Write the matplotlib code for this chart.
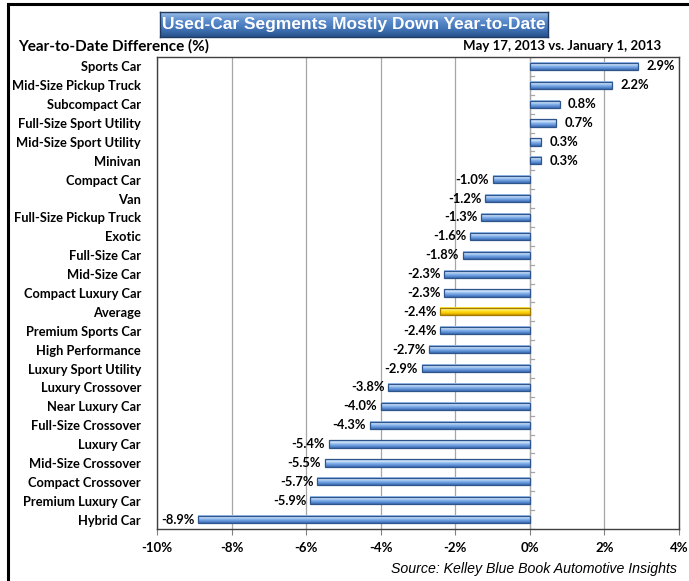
import matplotlib
matplotlib.use("Agg")
import matplotlib.pyplot as plt
import numpy as np
from matplotlib.lines import Line2D

categories = ["Sports Car", "Mid-Size Pickup Truck", "Subcompact Car", "Full-Size Sport Utility",
              "Mid-Size Sport Utility", "Minivan", "Compact Car", "Van", "Full-Size Pickup Truck",
              "Exotic", "Full-Size Car", "Mid-Size Car", "Compact Luxury Car", "Average",
              "Premium Sports Car", "High Performance", "Luxury Sport Utility", "Luxury Crossover",
              "Near Luxury Car", "Full-Size Crossover", "Luxury Car", "Mid-Size Crossover",
              "Compact Crossover", "Premium Luxury Car", "Hybrid Car"]
values = [2.9, 2.2, 0.8, 0.7, 0.3, 0.3, -1.0, -1.2, -1.3, -1.6, -1.8, -2.3, -2.3, -2.4,
          -2.4, -2.7, -2.9, -3.8, -4.0, -4.3, -5.4, -5.5, -5.7, -5.9, -8.9]
xticks = [-10, -8, -6, -4, -2, 0, 2, 4]
xtick_labels = ["-10%", "-8%", "-6%", "-4%", "-2%", "0%", "2%", "4%"]
title = "Used-Car Segments Mostly Down Year-to-Date"
ylabel = "Year-to-Date Difference (%)"
subtitle = "May 17, 2013 vs. January 1, 2013"
source = "Source: Kelley Blue Book Automotive Insights"
highlight = "Average"

W, H = 689, 581
fig = plt.figure(figsize=(W / 100, H / 100), dpi=100)
FONT = "Lato"

ax = fig.add_axes([157 / W, 1 - 529 / H, 522 / W, 472 / H])
n = len(categories)
ypos = np.arange(n)
bars = ax.barh(ypos, values, height=0.38, color="none", edgecolor="none", zorder=3)

ax.set_xlim(-10, 4)
ax.set_ylim(n - 0.5, -0.5)

blue_grad = np.array([[0.55, 0.72, 0.93], [0.85, 0.91, 0.98], [0.55, 0.72, 0.93], [0.38, 0.58, 0.85], [0.25, 0.43, 0.70]])
gold_grad = np.array([[1.0, 0.88, 0.15], [1.0, 0.97, 0.6], [1.0, 0.88, 0.15], [0.98, 0.80, 0.0], [0.80, 0.60, 0.0]])

def grad_img(cols, steps=20):
    t = np.linspace(0, 1, steps)
    xs = np.linspace(0, 1, len(cols))
    img = np.stack([np.interp(t, xs, cols[:, k]) for k in range(3)], axis=1)
    return img[:, None, :]

for cat, b in zip(categories, bars):
    x0, y0 = b.get_x(), b.get_y()
    w, h = b.get_width(), b.get_height()
    cols = gold_grad if cat == highlight else blue_grad
    edge = "#A07800" if cat == highlight else "#2E548C"
    ax.imshow(grad_img(cols), extent=(x0, x0 + w, y0 + h, y0), aspect="auto",
              interpolation="bilinear", zorder=3)
    ax.add_patch(plt.Rectangle((x0, y0), w, h, fill=False, edgecolor=edge, lw=0.9, zorder=4))

ax.set_xlim(-10, 4)
ax.set_ylim(n - 0.5, -0.5)

# labels
for i, v in enumerate(values):
    txt = f"{v:.1f}%"
    if v >= 0:
        ax.text(v + 0.22, i, txt, ha="left", va="center", fontsize=9.3, fontweight="bold",
                family=FONT, zorder=5)
    else:
        ax.text(v - 0.1, i, txt, ha="right", va="center", fontsize=9.3, fontweight="bold",
                family=FONT, zorder=5)

ax.set_xticks(xticks)
ax.set_xticklabels(xtick_labels, fontsize=9.5, fontweight="bold", family=FONT)
ax.set_yticks(ypos)
ax.set_yticklabels(categories, fontsize=9.3, fontweight="bold", family=FONT)
ax.tick_params(axis="y", length=0, pad=11.5)
ax.tick_params(axis="x", length=4, direction="out", color="#808080", pad=5)
ax.grid(axis="x", color="#A6A6A6", lw=0.9, zorder=0)
ax.set_axisbelow(True)
for s in ax.spines.values():
    s.set_color("#404040")
    s.set_linewidth(1.0)

# zero axis with category tick marks
ax.axvline(0, color="#A6A6A6", lw=0.9, zorder=1)
for yb in np.arange(-0.5, n, 1.0):
    ax.plot([0, 0.1], [yb, yb], color="#A6A6A6", lw=0.9, zorder=1)

# header texts
fig.text(18 / W, 1 - 46 / H, ylabel, ha="left", va="center", fontsize=11, fontweight="bold", family=FONT)
fig.text(661 / W, 1 - 46 / H, subtitle, ha="right", va="center", fontsize=9.5, fontweight="bold", family=FONT)

# title box with gradient
bx0, by0, bw, bh = 160, 12, 388, 25
tax = fig.add_axes([bx0 / W, 1 - (by0 + bh) / H, bw / W, bh / H])
tgrad = np.array([[0.60, 0.74, 0.90], [0.36, 0.55, 0.80], [0.26, 0.46, 0.72], [0.16, 0.33, 0.56]])
tax.imshow(grad_img(tgrad), extent=(0, 1, 0, 1), aspect="auto", interpolation="bilinear")
tax.set_xlim(0, 1)
tax.set_ylim(0, 1)
tax.set_xticks([])
tax.set_yticks([])
for s in tax.spines.values():
    s.set_color("#1F3A60")
    s.set_linewidth(1.0)
fig.text((bx0 + bw / 2) / W, 1 - (by0 + bh / 2 + 0.5) / H, title, ha="center", va="center",
         color="white", fontsize=12.5, fontweight="bold", family="Liberation Sans", zorder=10)

fig.text(677 / W, 1 - 569 / H, source, ha="right", va="center", fontsize=10.2, style="italic",
         family="Liberation Sans")

# outer frame lines
fig.add_artist(Line2D([8 / W, 1], [1 - 4 / H, 1 - 4 / H], color="black", lw=2.2, transform=fig.transFigure))
fig.add_artist(Line2D([8 / W, 8 / W], [1 - 4 / H, 0], color="black", lw=2.2, transform=fig.transFigure))

fig.savefig("out.png", dpi=100)
